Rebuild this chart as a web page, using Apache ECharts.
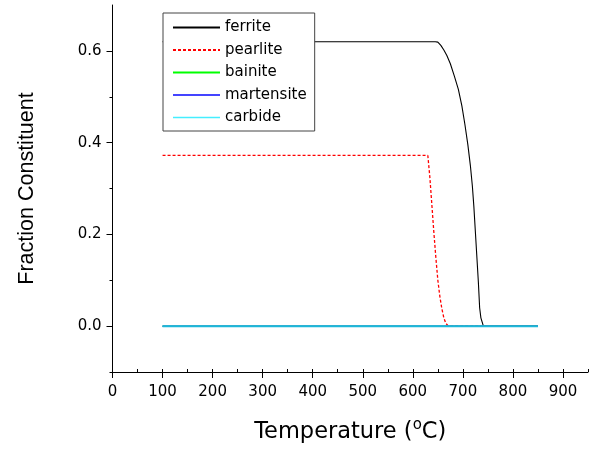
<!DOCTYPE html>
<html>
<head>
<meta charset="utf-8">
<script src="https://cdn.jsdelivr.net/npm/echarts@6/dist/echarts.min.js"></script>
<style>html,body{margin:0;padding:0;background:#fff}#c{width:594px;height:452px}</style>
</head>
<body>
<div id="c"></div>
<script>
const seriesNames = ['ferrite', 'pearlite', 'bainite', 'martensite', 'carbide'];
const ferriteT = [100, 645, 650, 656, 662, 668, 675, 683, 691, 698, 704, 710, 715, 719, 722, 725, 728, 731, 733.5, 736, 741, 850];
const ferriteV = [0.62, 0.62, 0.619, 0.612, 0.602, 0.590, 0.572, 0.545, 0.516, 0.480, 0.440, 0.395, 0.350, 0.305, 0.260, 0.205, 0.150, 0.095, 0.040, 0.018, 0.0, 0.0];
const pearliteT = [100, 630, 634, 638, 642, 646, 650, 654, 658, 662, 666, 671, 850];
const pearliteV = [0.372, 0.372, 0.325, 0.265, 0.205, 0.150, 0.100, 0.065, 0.038, 0.018, 0.006, 0.0, 0.0];
const bainiteT = [100, 850];
const bainiteV = [0, 0];
const martensiteT = [100, 850];
const martensiteV = [0, 0];
const carbideT = [100, 850];
const carbideV = [0, 0];
const xTicks = [0, 100, 200, 300, 400, 500, 600, 700, 800, 900];
const xMinorTicks = [0, 50, 100, 150, 200, 250, 300, 350, 400, 450, 500, 550, 600, 650, 700, 750, 800, 850, 900, 950];
const yTicks = [0, 0.2, 0.4, 0.6];
const yMinorTicks = [-0.1, 0.1, 0.3, 0.5];

const pairs = (t, v) => t.map((x, i) => [x, v[i]]);
const FONT = 'DejaVu Sans';

const chart = echarts.init(document.getElementById('c'), null, {renderer: 'canvas'});
const xMin = 0, xMax = 950, yMin = -0.1, yMax = 0.7;

const option = {
  animation: false,
  backgroundColor: '#fff',
  grid: {left: 112.5, right: 6, top: 5, bottom: 80, containLabel: false},
  legend: {
    orient: 'vertical', left: 163, top: 13,
    padding: [7, 8, 6, 9],
    itemWidth: 47, itemHeight: 14, itemGap: 7.5,
    backgroundColor: '#fff', borderColor: '#444', borderWidth: 1,
    itemStyle: {color: 'transparent', borderColor: 'transparent', borderWidth: 0},
    textStyle: {fontFamily: FONT, fontSize: 15, color: '#000'},
    data: [
      {name: 'ferrite'},
      {name: 'pearlite'},
      {name: 'bainite'},
      {name: 'martensite'},
      {name: 'carbide', lineStyle: {color: '#44eeff', width: 1.6}}
    ]
  },
  xAxis: [{
    type: 'value', min: xMin, max: xMax, interval: 50,
    axisLine: {onZero: false, lineStyle: {color: '#000', width: 1}},
    axisTick: {show: true, inside: false, length: 6, lineStyle: {color: '#000'}, customValues: xTicks},
    axisLabel: {color: '#000', fontFamily: FONT, fontSize: 15, margin: 13, customValues: xTicks},
    splitLine: {show: false},
    name: 'Temperature ({sup|o}C)', nameLocation: 'middle', nameGap: 46,
    nameTextStyle: {fontFamily: FONT, fontSize: 22.5, color: '#000',
      rich: {sup: {fontFamily: FONT, fontSize: 15, color: '#000', padding: [0, 0, 13, 0]}}}
  }, {
    type: 'value', min: xMin, max: xMax, interval: 50, position: 'bottom',
    axisLine: {show: false, onZero: false},
    axisTick: {show: true, inside: true, length: 3, lineStyle: {color: '#000'}, customValues: xMinorTicks},
    axisLabel: {show: false},
    splitLine: {show: false}
  }],
  yAxis: [{
    type: 'value', min: yMin, max: yMax, interval: 0.1,
    axisLine: {show: true, onZero: false, lineStyle: {color: '#000', width: 1}},
    axisTick: {show: true, inside: false, length: 6, lineStyle: {color: '#000'}, customValues: yTicks},
    axisLabel: {color: '#000', fontFamily: FONT, fontSize: 15, margin: 11, customValues: yTicks,
      formatter: v => v.toFixed(1)},
    splitLine: {show: false},
    name: 'Fraction Constituent', nameLocation: 'middle', nameGap: 74,
    nameTextStyle: {fontFamily: 'Liberation Sans', fontSize: 21.5, color: '#000'}
  }, {
    type: 'value', min: yMin, max: yMax, interval: 0.1, position: 'left',
    axisLine: {show: false, onZero: false},
    axisTick: {show: true, inside: false, length: 3, lineStyle: {color: '#000'}, customValues: yMinorTicks},
    axisLabel: {show: false},
    splitLine: {show: false}
  }],
  series: [
    {name: 'ferrite', type: 'line', data: pairs(ferriteT, ferriteV), showSymbol: false, symbol: 'none',
      lineStyle: {color: '#000', width: 1.1}, itemStyle: {color: '#000'}, z: 2},
    {name: 'pearlite', type: 'line', data: pairs(pearliteT, pearliteV), showSymbol: false, symbol: 'none',
      lineStyle: {color: '#ff0000', width: 1.3, type: [3, 2]}, itemStyle: {color: '#ff0000'}, z: 3},
    {name: 'bainite', type: 'line', data: pairs(bainiteT, bainiteV), showSymbol: false, symbol: 'none',
      lineStyle: {color: '#00ff00', width: 1.5}, itemStyle: {color: '#00ff00'}, z: 4},
    {name: 'martensite', type: 'line', data: pairs(martensiteT, martensiteV), showSymbol: false, symbol: 'none',
      lineStyle: {color: '#4444ff', width: 1.5}, itemStyle: {color: '#4444ff'}, z: 5},
    {name: 'carbide', type: 'line', data: pairs(carbideT, carbideV), showSymbol: false, symbol: 'none',
      lineStyle: {color: '#1cb8da', width: 2}, itemStyle: {color: '#1cb8da'}, z: 6}
  ]
};
chart.setOption(option);
</script>
</body>
</html>
